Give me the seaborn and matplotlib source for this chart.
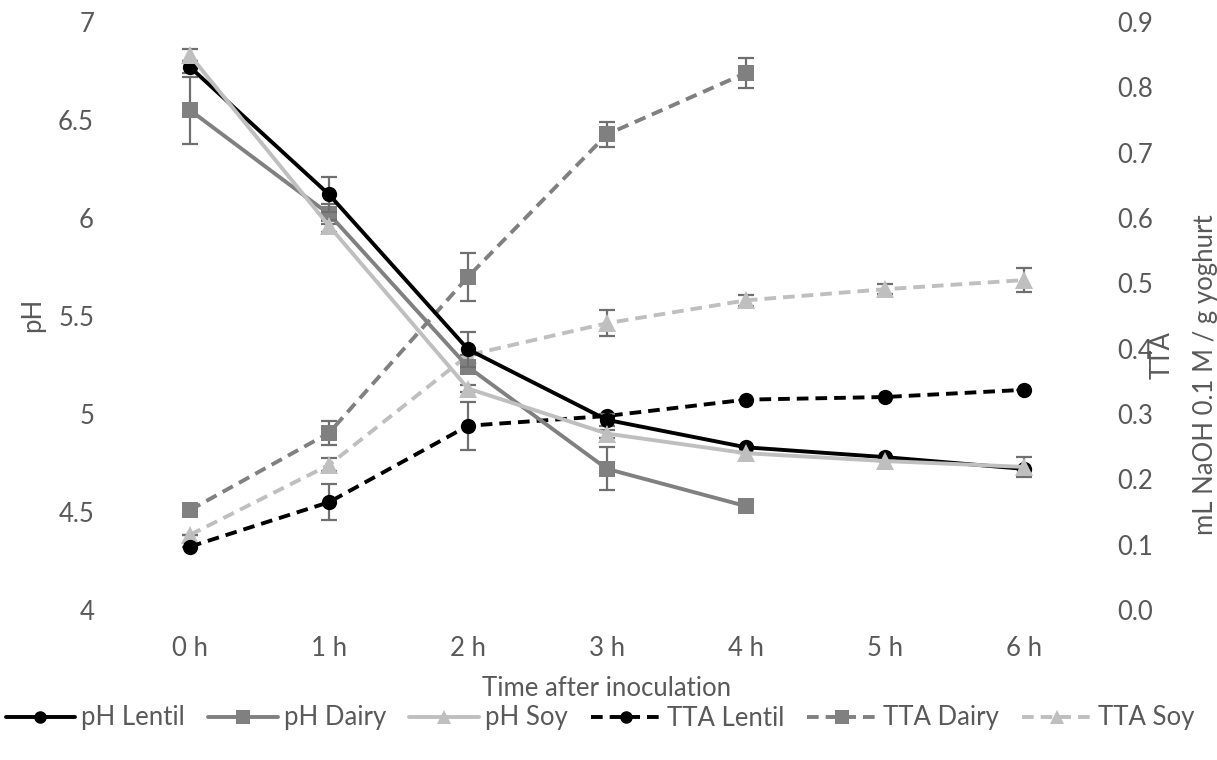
import matplotlib
matplotlib.use("Agg")
import matplotlib.pyplot as plt
import seaborn as sns
import numpy as np
import pandas as pd
from matplotlib.lines import Line2D

sns.set_theme(style="white")
plt.rcParams['font.family'] = ['Lato', 'DejaVu Sans']

hours = ["0 h", "1 h", "2 h", "3 h", "4 h", "5 h", "6 h"]

ph_lentil = [6.77, 6.12, 5.33, 4.97, 4.83, 4.78, 4.72]
ph_lentil_err = [0.03, 0.09, 0.09, 0.03, 0.0, 0.0, 0.0]
ph_dairy = [6.55, 6.02, 5.24, 4.72, 4.53]
ph_dairy_err = [0.17, 0.05, 0.02, 0.11, 0.0]
ph_soy = [6.83, 5.96, 5.13, 4.90, 4.80, 4.76, 4.73]
ph_soy_err = [0.03, 0.03, 0.02, 0.02, 0.0, 0.0, 0.05]

tta_lentil = [0.097, 0.165, 0.282, 0.297, 0.322, 0.326, 0.337]
tta_lentil_err = [0.0, 0.028, 0.037, 0.0, 0.0, 0.0, 0.0]
tta_dairy = [0.153, 0.271, 0.510, 0.728, 0.822]
tta_dairy_err = [0.0, 0.018, 0.037, 0.019, 0.023]
tta_soy = [0.115, 0.222, 0.390, 0.439, 0.474, 0.491, 0.505]
tta_soy_err = [0.0, 0.010, 0.0, 0.020, 0.008, 0.008, 0.018]

BLACK, DGRAY, LGRAY = "#000000", "#808080", "#bfbfbf"
ERRC = "#6f6f6f"
TXT = "#595959"
FS = 18.5

W, H = 1217, 760
fig = plt.figure(figsize=(W / 100, H / 100), dpi=100)
ax = fig.add_axes([120.5 / W, 1 - 610 / H, 973 / W, 588 / H])
ax2 = ax.twinx()

LW = 2.8
DASH = (3, 1.8)

def draw(axis, vals, errs, color, marker, ms, dashed, z):
    x = np.arange(len(vals))
    df = pd.DataFrame({"x": x, "y": vals})
    axis.errorbar(x, vals, yerr=errs, fmt="none", ecolor=ERRC, elinewidth=1.6,
                  capsize=6, capthick=1.6, zorder=z - 0.5)
    sns.lineplot(data=df, x="x", y="y", ax=axis, color=color, lw=LW,
                 marker=marker, markersize=ms, markeredgewidth=0,
                 markerfacecolor=color, legend=False, zorder=z,
                 linestyle="--" if dashed else "-")
    if dashed:
        axis.lines[-1].set_dashes(DASH)

# TTA on right axis
draw(ax2, tta_dairy, tta_dairy_err, DGRAY, "s", 12, True, 3)
draw(ax2, tta_soy, tta_soy_err, LGRAY, "^", 13, True, 3)
draw(ax2, tta_lentil, tta_lentil_err, BLACK, "o", 11, True, 3)
# pH on left axis
ax.set_zorder(ax2.get_zorder() + 1)
ax.patch.set_visible(False)
draw(ax, ph_dairy, ph_dairy_err, DGRAY, "s", 12, False, 3)
draw(ax, ph_lentil, ph_lentil_err, BLACK, "o", 11, False, 4)
draw(ax, ph_soy, ph_soy_err, LGRAY, "^", 13, False, 5)

ax.set_xlim(-0.5, 6.5)
ax.set_ylim(4, 7)
ax2.set_ylim(0, 0.9)
ax.set_xticks(range(len(hours)))
ax.set_xticklabels(hours)
ax.set_yticks(np.arange(4, 7.01, 0.5))
ax.set_yticklabels(["4", "4.5", "5", "5.5", "6", "6.5", "7"])
ax2.set_yticks(np.arange(0, 0.91, 0.1))
ax2.set_yticklabels([f"{v:.1f}" for v in np.arange(0, 0.91, 0.1)])

for a in (ax, ax2):
    for s in a.spines.values():
        s.set_visible(False)
    a.grid(False)
    a.tick_params(length=0, labelsize=FS, colors=TXT)
ax.tick_params(axis="y", pad=19)
ax.tick_params(axis="x", pad=19)
ax2.tick_params(axis="y", pad=17)

ax.set_xlabel("")
ax.set_ylabel("")
ax2.set_ylabel("")
fig.text(607 / W, 1 - 689 / H, "Time after inoculation", fontsize=FS,
         color=TXT, ha="center", va="center")
fig.text(33 / W, 1 - 315 / H, "pH", rotation=90, fontsize=FS,
         color=TXT, ha="center", va="center")
fig.text(1162 / W, 1 - 355 / H, "TTA", rotation=90, fontsize=FS,
         color=TXT, ha="center", va="center")
fig.text(1205 / W, 1 - 375 / H, "mL NaOH 0.1 M / g yoghurt", rotation=90,
         fontsize=FS, color=TXT, ha="center", va="center")

handles = [
    Line2D([], [], color=BLACK, lw=LW, marker="o", ms=9, mew=0),
    Line2D([], [], color=DGRAY, lw=LW, marker="s", ms=10, mew=0),
    Line2D([], [], color=LGRAY, lw=LW, marker="^", ms=10, mew=0),
    Line2D([], [], color=BLACK, lw=LW, marker="o", ms=9, mew=0, dashes=DASH),
    Line2D([], [], color=DGRAY, lw=LW, marker="s", ms=10, mew=0, dashes=DASH),
    Line2D([], [], color=LGRAY, lw=LW, marker="^", ms=10, mew=0, dashes=DASH),
]
labels = ["pH Lentil", "pH Dairy", "pH Soy", "TTA Lentil", "TTA Dairy", "TTA Soy"]
leg = fig.legend(handles, labels, loc="center", bbox_to_anchor=(600 / W, 1 - 718 / H),
                 ncol=6, frameon=False, fontsize=FS, handlelength=2.7,
                 columnspacing=0.9, handletextpad=0.25, borderpad=0.2)
for t in leg.get_texts():
    t.set_color(TXT)

fig.savefig("out.png", dpi=100)
